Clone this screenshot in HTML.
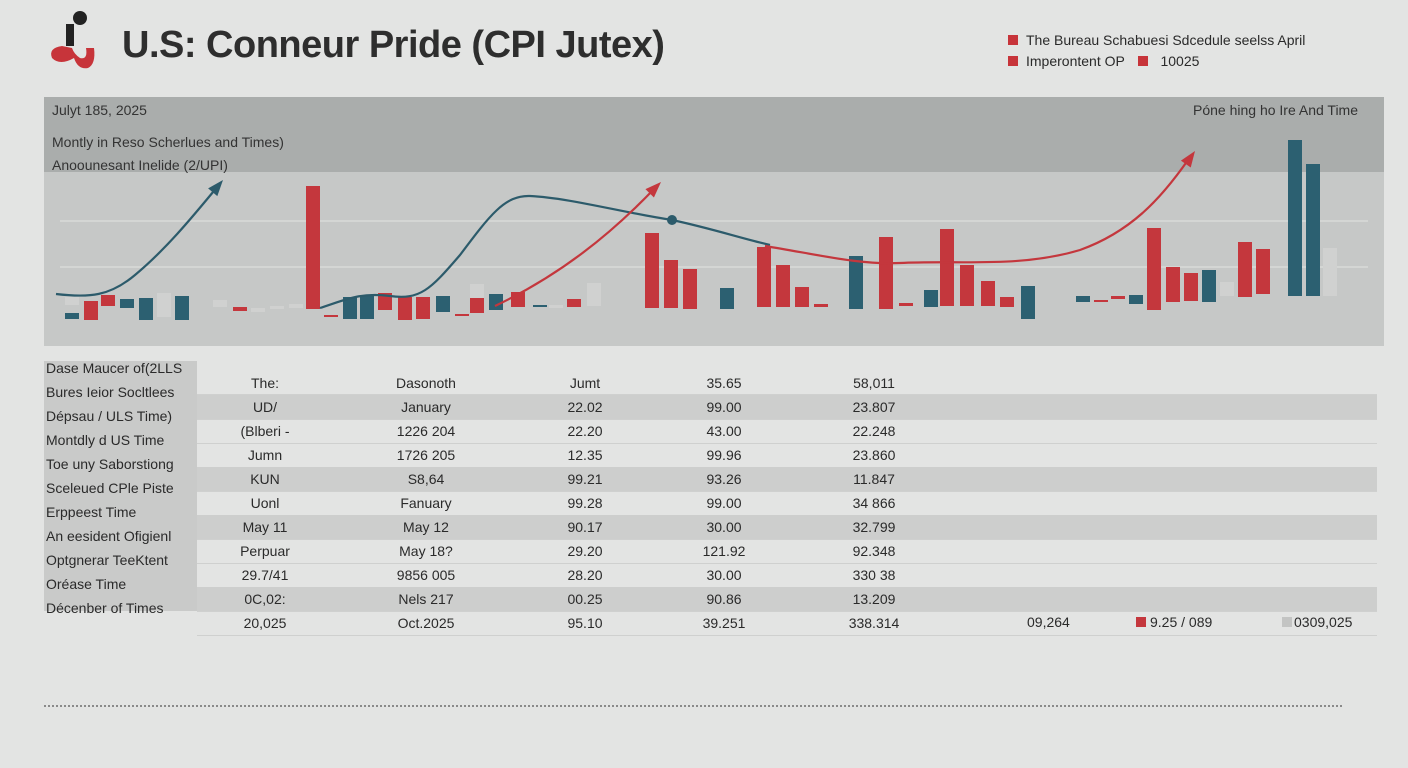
<!DOCTYPE html>
<html><head><meta charset="utf-8"><style>
body{margin:0;width:1408px;height:768px;background:#e3e4e3;font-family:"Liberation Sans",sans-serif;position:relative;overflow:hidden;color:#2a2a2a}
.abs{position:absolute}
.row{position:absolute;left:197px;width:1180px;height:24px;border-bottom:1px solid #cfd0cf}
.c{position:absolute;font-size:14px;transform:translateX(-50%);white-space:nowrap}
.lab{position:absolute;left:46px;font-size:14px;white-space:nowrap}
</style></head><body>
<svg class="abs" style="left:44px;top:8px" width="54" height="66">
<circle cx="36" cy="10" r="7" fill="#222"/>
<rect x="22" y="16" width="8" height="22" fill="#222"/>
<path d="M18 38 Q4 40 8 50 Q16 58 30 50 Q34 62 44 60 Q52 56 50 40 L42 40 Q44 52 36 50 Q30 46 28 40 Z" fill="#c7343a"/>
</svg>
<div class="abs" style="left:122px;top:24px;font-size:38px;font-weight:bold;color:#2e2e2e;letter-spacing:-0.5px">U.S: Conneur Pride (CPI Jutex)</div>
<div class="abs" style="left:1008px;top:30px;font-size:14px;line-height:21px">
<div><span style="display:inline-block;width:10px;height:10px;background:#c7343a;margin-right:8px"></span>The Bureau Schabuesi Sdcedule seelss April</div>
<div><span style="display:inline-block;width:10px;height:10px;background:#c7343a;margin-right:8px"></span>Imperontent OP <span style="display:inline-block;width:10px;height:10px;background:#c7343a;margin:0 12px 0 10px"></span>10025</div>
</div>
<svg class="abs" style="left:0;top:0" width="1408" height="768" id="chart">
<rect x="44" y="97" width="1340" height="249" fill="#c6c8c7"/>
<rect x="44" y="97" width="1340" height="75" fill="#aaadac"/>
<line x1="60" y1="221" x2="1368" y2="221" stroke="#d9dad9" stroke-width="1.5"/>
<line x1="60" y1="267" x2="1368" y2="267" stroke="#d9dad9" stroke-width="1.5"/>
<text x="52" y="115" font-size="14" fill="#333" font-family="Liberation Sans">Julyt 185, 2025</text>
<text x="52" y="147" font-size="14" fill="#333" font-family="Liberation Sans">Montly in Reso Scherlues and Times)</text>
<text x="52" y="170" font-size="14" fill="#333" font-family="Liberation Sans">Anoounesant Inelide (2/UPI)</text>
<text x="1358" y="115" font-size="14" fill="#333" text-anchor="end" font-family="Liberation Sans">Póne hing ho Ire And Time</text>
<g id="bars"></g><g id="lines"></g>
<line x1="44" y1="706" x2="1344" y2="706" stroke="#555" stroke-width="1.2" stroke-dasharray="2,2"/>
</svg>
<div class="abs" style="left:44px;top:361px;width:153px;height:250px;background:#c9cac9"></div>
<div id="table"></div>
<script>
// bar data: category position, top value, bottom value, color key
const barX=[72,72,91,108,127,146,164,182,220,240,258,277,296,313,331,350,367,385,405,423,443,462,477,477,496,518,540,556,574,594,652,671,690,727,764,783,802,821,856,886,906,931,947,967,988,1007,1028,1083,1101,1118,1136,1154,1173,1191,1209,1227,1245,1263,1295,1313,1330];
const barHigh=[49,33,45,51,47,48,53,50,46,39,38,40,42,160,31,49,51,53,49,49,50,32,62,48,52,54,41,41,47,63,113,86,77,58,99,81,59,42,90,109,43,56,117,81,65,49,60,50,46,50,51,118,79,73,76,64,104,97,206,182,98];
const barLow=[41,27,26,40,38,26,29,26,39,35,34,37,38,37,29,27,27,36,26,27,34,30,46,33,36,39,39,38,39,40,38,38,37,37,39,39,39,39,37,37,40,39,40,40,40,39,27,44,44,47,42,36,44,45,44,50,49,52,50,50,50];
const barColor=["g","b","r","r","b","b","g","b","g","r","g","g","g","r","r","b","b","r","r","r","b","r","g","r","b","r","b","g","r","g","r","r","r","b","r","r","r","r","b","r","r","b","r","r","r","r","b","b","r","r","b","r","r","r","b","g","r","r","b","b","g"];
const colors={r:"#c4373d",b:"#2c6071",g:"#d0d1d0"};
const base=346;
function yS(v){return base-v;}
const NS="http://www.w3.org/2000/svg";
const gb=document.getElementById('bars');
for(let i=0;i<barX.length;i++){
 const r=document.createElementNS(NS,'rect');
 
 
 const t=yS(barHigh[i]),b=yS(barLow[i]);
 r.setAttribute('x',barX[i]-7);r.setAttribute('y',Math.min(t,b));
 r.setAttribute('width',14);r.setAttribute('height',Math.max(2,Math.abs(b-t)));
 r.setAttribute('fill',colors[barColor[i]]);
 gb.appendChild(r);
}
const gl=document.getElementById('lines');
function path(d,c,name){const p=document.createElementNS(NS,'path');


p.setAttribute('d',d);p.setAttribute('fill','none');p.setAttribute('stroke',c);p.setAttribute('stroke-width','2.2');gl.appendChild(p);}
function head(x,y,ang,c){const p=document.createElementNS(NS,'polygon');


p.setAttribute('points','0,0 -16,-6 -16,6');p.setAttribute('fill',c);p.setAttribute('transform',`translate(${x},${y}) rotate(${ang})`);gl.appendChild(p);}
path("M56 294 C90 298 110 296 135 275 C165 250 190 220 218 186","#2c5b6b","blue-trend-1");head(223,180,-50,"#2c5b6b");
path("M320 308 C345 300 360 292 390 296 C420 300 430 290 460 255 C490 215 505 195 530 196 C570 198 620 212 672 220 C710 228 740 238 770 245","#2c5b6b","blue-trend-2");
const dot=document.createElementNS(NS,'circle');


dot.setAttribute('cx',672);dot.setAttribute('cy',220);dot.setAttribute('r',5);dot.setAttribute('fill','#2c5b6b');gl.appendChild(dot);
path("M495 306 C560 275 610 235 655 188","#c4373d","red-trend-1");head(661,182,-45,"#c4373d");
path("M765 246 C820 255 860 265 900 263 C960 260 1020 268 1080 250 C1130 232 1160 200 1188 160","#c4373d","red-trend-2");head(1195,151,-55,"#c4373d");
const rowY=[370,395,419,443,467,491,515,539,563,587,611];
const stripe=[0,1,0,0,1,0,1,0,0,1,0];
const labels=["Dase Maucer of(2LLS","Bures Ieior Socltlees","Dépsau / ULS Time)","Montdly d US Time","Toe uny Saborstiong","Sceleued CPle Piste","Erppeest Time","An eesident Ofigienl","Optgnerar TeeKtent","Oréase Time","Décenber of Times"];
const col1=["","The:","UD/","(Blberi -","Jumn","KUN","Uonl","May 11","Perpuar","29.7/41","0C,02:","20,025"];
const col2=["","Dasonoth","January","1226 204","1726 205","S8,64","Fanuary","May 12","May 18?","9856 005","Nels 217","Oct.2025"];
const col3=["","Jumt","22.02","22.20","12.35","99.21","99.28","90.17","29.20","28.20","00.25","95.10"];
const col4=["","35.65","99.00","43.00","99.96","93.26","99.00","30.00","121.92","30.00","90.86","39.251"];
const col5=["","58,011","23.807","22.248","23.860","11.847","34 866","32.799","92.348","330 38","13.209","338.314"];
const colX=[265,426,585,724,874];
const tb=document.getElementById('table');
for(let i=0;i<rowY.length;i++){
 const r=document.createElement('div');
 
 
 r.className='row';r.style.top=rowY[i]+'px';
 if(stripe[i])r.style.background='#cdcecd';
 tb.appendChild(r);
}
for(let i=0;i<labels.length;i++){
 const l=document.createElement('div');
 
 
 l.className='lab';l.style.top=(360+i*24)+'px';l.textContent=labels[i];tb.appendChild(l);
}
const cols=[col1,col2,col3,col4,col5];
for(let i=1;i<12;i++){
 for(let j=0;j<5;j++){
  const c=document.createElement('div');
  
  
  c.className='c';c.style.left=colX[j]+'px';c.style.top=(375+(i-1)*24)+'px';c.textContent=cols[j][i];tb.appendChild(c);
 }
}
</script>
<div class="abs" style="left:1027px;top:614px;font-size:14px">09,264</div>
<div class="abs" style="left:1136px;top:614px;font-size:14px"><span style="display:inline-block;width:10px;height:10px;background:#c4373d;margin-right:4px"></span>9.25 / 089</div>
<div class="abs" style="left:1282px;top:614px;font-size:14px"><span style="display:inline-block;width:10px;height:10px;background:#c3c4c3;margin-right:2px"></span>0309,025</div>
</body></html>
